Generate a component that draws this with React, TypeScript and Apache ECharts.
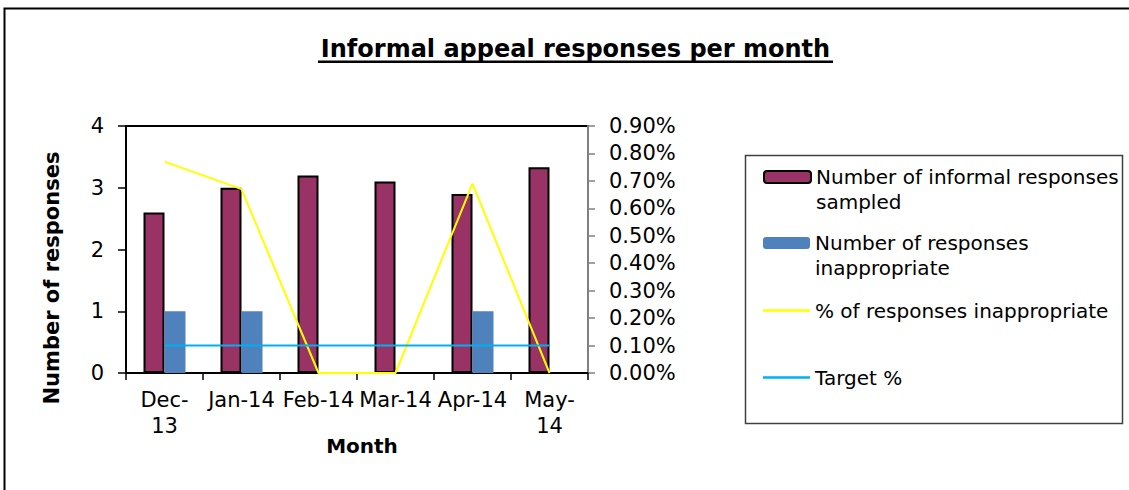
import React, { useEffect, useRef } from "react";
import * as echarts from "echarts";

const categories = ["Dec-13", "Jan-14", "Feb-14", "Mar-14", "Apr-14", "May-14"];
const tickLabels = ["Dec-\n13", "Jan-14", "Feb-14", "Mar-14", "Apr-14", "May-\n14"];
const sampled = [2.6, 3.0, 3.2, 3.1, 2.9, 3.33];
const inappropriate = [1, 1, 0, 0, 1, 0];
const pctInappropriate = [0.77, 0.67, 0, 0, 0.69, 0];
const targetPct = [0.1, 0.1, 0.1, 0.1, 0.1, 0.1];

const S1 = "Number of informal responses sampled";
const S2 = "Number of responses inappropriate";
const S3 = "% of responses inappropriate";
const S4 = "Target %";
const legendLabels: Record<string, string> = {
  [S1]: "\nNumber of informal responses\nsampled",
  [S2]: "\nNumber of responses\ninappropriate",
  [S3]: "% of responses inappropriate",
  [S4]: "Target %",
};

const FONT = "DejaVu Sans";

export default function App() {
  const ref = useRef<HTMLDivElement>(null);
  useEffect(() => {
    if (!ref.current) return;
    const chart = echarts.init(ref.current, undefined, { renderer: "svg" });
    const txt = { fontFamily: FONT, fontSize: 20, color: "#000", lineHeight: 25 };
    const legendBase = {
      orient: "vertical",
      left: 763,
      padding: 0,
      itemWidth: 47,
      itemHeight: 12,
      itemGap: 0,
      selectedMode: false,
      textStyle: txt,
      formatter: (n: string) => legendLabels[n] ?? n,
    };
    chart.setOption({
      animation: false,
      backgroundColor: "#fff",
      grid: {
        left: 126,
        top: 126,
        width: 462,
        height: 247,
        show: true,
        borderColor: "#000",
        borderWidth: 2,
        backgroundColor: "transparent",
      },
      legend: [
        { ...legendBase, top: 139.5, data: [S1] },
        { ...legendBase, top: 205.5, data: [S2] },
        { ...legendBase, top: 298, itemHeight: 2.5, data: [{ name: S3, icon: "rect" }] },
        { ...legendBase, top: 365, itemHeight: 2.5, data: [{ name: S4, icon: "rect" }] },
      ],
      xAxis: {
        type: "category",
        data: categories,
        boundaryGap: true,
        name: "Month",
        nameLocation: "middle",
        nameGap: 61,
        nameMoveOverlap: false,
        nameTextStyle: {
          fontFamily: FONT,
          fontSize: 20,
          fontWeight: "bold",
          color: "#000",
          lineHeight: 24,
          padding: [0, 0, 0, 10],
        },
        axisLine: { lineStyle: { color: "#000", width: 2 } },
        axisTick: { show: true, length: 7, lineStyle: { color: "#000", width: 1.5 } },
        axisLabel: {
          interval: 0,
          margin: 14,
          fontFamily: FONT,
          fontSize: 21,
          lineHeight: 26,
          color: "#000",
          formatter: (_v: string, i: number) => tickLabels[i],
        },
        splitLine: { show: false },
      },
      yAxis: [
        {
          type: "value",
          min: 0,
          max: 4,
          interval: 1,
          position: "left",
          axisLine: { show: true, lineStyle: { color: "#000", width: 2 } },
          axisTick: { show: true, length: 8, lineStyle: { color: "#000", width: 1.5 } },
          axisLabel: { margin: 22, fontFamily: FONT, fontSize: 21, color: "#000" },
          splitLine: { show: false },
        },
        {
          type: "value",
          min: 0,
          max: 0.9,
          interval: 0.1,
          position: "right",
          axisLine: { show: true, lineStyle: { color: "#808080", width: 2 } },
          axisTick: { show: true, length: 7, lineStyle: { color: "#808080", width: 1.5 } },
          axisLabel: {
            margin: 21,
            fontFamily: FONT,
            fontSize: 21,
            color: "#000",
            formatter: (v: number) => v.toFixed(2) + "%",
          },
          splitLine: { show: false },
        },
      ],
      series: [
        {
          name: S1,
          type: "bar",
          data: sampled,
          barWidth: 21,
          barGap: "0%",
          itemStyle: { color: "#993366", borderColor: "#000", borderWidth: 2 },
        },
        {
          name: S2,
          type: "bar",
          data: inappropriate,
          barWidth: 21,
          itemStyle: { color: "#4F81BD" },
        },
        {
          name: S3,
          type: "line",
          yAxisIndex: 1,
          data: pctInappropriate,
          symbol: "none",
          lineStyle: { color: "#FFFF00", width: 2 },
          itemStyle: { color: "#FFFF00" },
          z: 3,
        },
        {
          name: S4,
          type: "line",
          yAxisIndex: 1,
          data: targetPct,
          symbol: "none",
          lineStyle: { color: "#00B0F0", width: 2 },
          itemStyle: { color: "#00B0F0" },
          z: 4,
        },
      ],
      graphic: [
        {
          type: "rect",
          shape: { x: 4.5, y: 8.5, width: 1300, height: 700 },
          style: { fill: "none", stroke: "#000", lineWidth: 2 },
          silent: true,
          z: -10,
        },
        {
          type: "rect",
          shape: { x: 745.5, y: 155.5, width: 377, height: 268 },
          style: { fill: "none", stroke: "#404040", lineWidth: 1.5 },
          silent: true,
        },
        {
          type: "text",
          x: 575.5,
          y: 49,
          style: {
            text: "Informal appeal responses per month",
            fontFamily: FONT,
            fontSize: 24,
            fontWeight: "bold",
            fill: "#000",
            align: "center",
            verticalAlign: "middle",
          },
        },
        {
          type: "rect",
          shape: { x: 318, y: 60.5, width: 515, height: 2.5 },
          style: { fill: "#000" },
          silent: true,
        },
        {
          type: "text",
          x: 52,
          y: 278,
          rotation: Math.PI / 2,
          style: {
            text: "Number of responses",
            fontFamily: FONT,
            fontSize: 21,
            fontWeight: "bold",
            fill: "#000",
            align: "center",
            verticalAlign: "middle",
          },
        },
      ],
    });
    return () => chart.dispose();
  }, []);
  return (
    <div
      ref={ref}
      style={{ position: "absolute", left: 0, top: 0, width: 1129, height: 490 }}
    />
  );
}
